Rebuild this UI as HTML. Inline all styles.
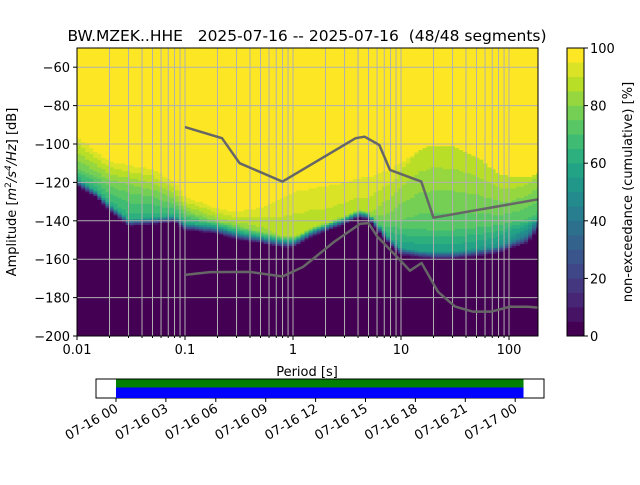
<!DOCTYPE html>
<html><head><meta charset="utf-8">
<style>
body{margin:0;background:#fff;}
svg text{font-family:"DejaVu Sans","Liberation Sans",sans-serif;fill:#000;}
</style></head>
<body>
<svg id="chart" width="640" height="480" viewBox="0 0 640 480" xmlns="http://www.w3.org/2000/svg">
<rect width="640" height="480" fill="#fff"/>
<text x="307" y="41" font-size="15.5" text-anchor="middle" xml:space="preserve">BW.MZEK..HHE   2025-07-16 -- 2025-07-16  (48/48 segments)</text>
<g id="heat"></g>
<g id="grid"></g>
<g id="models"></g>
<rect x="77" y="48" width="461" height="288" fill="none" stroke="#000" stroke-width="1"/>
<g id="axes"></g>
<text x="307" y="376" font-size="13" text-anchor="middle">Period [s]</text>
<text transform="translate(16,192) rotate(-90)" font-size="13" text-anchor="middle">Amplitude [<tspan font-style="italic">m</tspan><tspan dy="-5" font-size="9">2</tspan><tspan dy="5" font-style="italic">/s</tspan><tspan dy="-5" font-size="9" font-style="italic">4</tspan><tspan dy="5" font-style="italic">/Hz</tspan>] [dB]</text>
<g id="cbar"></g>
<text transform="translate(632,192) rotate(-90)" font-size="13" text-anchor="middle">non-exceedance (cumulative) [%]</text>
<g id="timebar"></g>
</svg>
<script>
// ---- data ----
const periods = [0.01,0.015,0.02,0.03,0.05,0.08,0.1,0.2,0.3,0.5,0.8,1,1.5,2,3,4,5,6,8,10,15,20,30,50,80,100,150,186];
const lowEdge = [-122,-128,-135,-143,-142,-141,-145,-147,-150,-152,-154,-154,-148.5,-145.7,-142,-138.5,-139.5,-144.7,-153.5,-158,-159.5,-160,-160,-158.7,-157,-155,-152,-145];
const jumpLevel = [62,62,62,62,62,62,60,58,58,60,62,66,72,78,84,84,84,72,60,55,55,55,55,54,52,48,40,32];
const midDb = [-112,-116,-120,-122,-125,-130,-135,-140,-142,-145,-148,-148,-145,-142,-138,-135,-135,-135,-138,-141,-143,-143,-143,-142,-141,-140,-139,-138];
const plateau = [76,77,78,78,78,78,79,81,82,83,85,85,86,87,87,87,87,84,78,74,72,72,72,72,72,72,70,68];
const topEdge = [-96,-104,-109,-111,-113,-120,-127.5,-133.5,-135.3,-133,-128,-125,-123,-122,-120,-118,-117,-116,-113,-110,-103,-100.5,-101,-106.5,-115,-117,-117,-115];
const nhnmP = [0.1,0.22,0.32,0.8,3.8,4.6,6.3,7.9,15.4,20,186];
const nhnmDb = [-91.2,-97,-110,-119.6,-97,-96.2,-100.5,-113.5,-119.6,-138.4,-128.8];
const nlnmP = [0.1,0.17,0.4,0.8,1.24,2.4,4.2,5.0,6.0,10,12.1,15.5,22,31.7,46,69,101,150,186];
const nlnmDb = [-168.2,-166.7,-166.6,-169,-164,-151,-141.5,-141.2,-148,-161,-166,-162,-177,-184.7,-187.3,-187.3,-184.8,-184.8,-185.2];
const yTicks = [-60,-80,-100,-120,-140,-160,-180,-200];
const xTicks = [0.01,0.1,1,10,100];
const xTickLabels = ["0.01","0.1","1","10","100"];
const cTicks = [0,20,40,60,80,100];
const timeLabels = ["07-16 00","07-16 03","07-16 06","07-16 09","07-16 12","07-16 15","07-16 18","07-16 21","07-17 00"];
const coverageStartH = 0, coverageEndH = 24.5;

// ---- axes ----
const X0=77,X1=538,Y0=48,Y1=336;
const LMIN=-2, DEC=108;
function xs(p){return X0+(Math.log10(p)-LMIN)*DEC;}
const DBMIN=-200,DBMAX=-50;
function ys(d){return Y1-(d-DBMIN)/(DBMAX-DBMIN)*(Y1-Y0);}
const NS="http://www.w3.org/2000/svg";
function mk(tag,attrs,parent){const e=document.createElementNS(NS,tag);for(const k in attrs)e.setAttribute(k,attrs[k]);parent.appendChild(e);return e;}
const vir=["#440154","#482475","#414487","#355f8d","#2a788e","#21918c","#22a884","#44bf70","#7ad151","#bddf26","#fde725"];
function hex(h){return [1,3,5].map(i=>parseInt(h.substr(i,2),16));}
function viridis(t){t=Math.max(0,Math.min(1,t));const f=t*10,i=Math.min(9,Math.floor(f)),r=f-i;const a=hex(vir[i]),b=hex(vir[i+1]);return "rgb("+a.map((v,k)=>Math.round(v+(b[k]-v)*r)).join(",")+")";}
function levelColor(l){return viridis(l/19);}
function interp(xa,ya,x){const lx=Math.log10(x);if(x<=xa[0])return ya[0];for(let i=1;i<xa.length;i++){if(x<=xa[i]){const a=Math.log10(xa[i-1]),b=Math.log10(xa[i]);return ya[i-1]+(ya[i]-ya[i-1])*(lx-a)/(b-a);}}return ya[ya.length-1];}
function pct(p,d){
  const lo=interp(periods,lowEdge,p),J=interp(periods,jumpLevel,p),md=Math.max(lo+5,interp(periods,midDb,p)),P=interp(periods,plateau,p),tp=Math.max(md+2,interp(periods,topEdge,p));
  if(d<lo)return 0;
  if(d<lo+4)return J*(d-lo)/4;
  if(d>=tp)return 100;
  if(d<md)return J+(P-J)*(d-lo-4)/(md-lo-4);
  const P2=Math.min(94.9,P+18);
  return P+(P2-P)*(d-md)/(tp-md);
}
// heatmap
const heat=document.getElementById('heat');
const step=0.125*Math.log10(2);
for(let lp=LMIN;lp<Math.log10(186)+step;lp+=step){
  const p=Math.pow(10,lp+step/2);
  const xa=X0+(lp-LMIN)*DEC, xb=Math.min(X1,xa+step*DEC+0.6);
  if(xa>=X1)break;
  let runStart=DBMIN,runLev=null;
  for(let d=DBMIN;d<=DBMAX;d+=1){
    const lev=(d>=DBMAX)?-1:Math.min(19,Math.floor(pct(p,d+0.5)/5));
    if(lev!==runLev){
      if(runLev!==null&&runLev>=0){
        const r=mk('rect',{x:xa.toFixed(2),y:(ys(d)-0.3).toFixed(2),width:(xb-xa).toFixed(2),height:(ys(runStart)-ys(d)+0.6).toFixed(2),fill:levelColor(runLev)},heat);
        
        
      }
      runStart=d;runLev=lev;
    }
  }
}
// grid
const grid=document.getElementById('grid');
for(let e=-2;e<=2;e++)for(let m=1;m<=9;m++){const p=m*Math.pow(10,e);const x=xs(p);if(x<X0+0.5||x>X1-0.5)continue;
  const l=mk('line',{x1:x,x2:x,y1:Y0,y2:Y1,stroke:'#b0b0b0','stroke-width':1},grid);
  
  }
yTicks.forEach(t=>{const y=ys(t);if(y>=Y1-0.5)return;const l=mk('line',{x1:X0,x2:X1,y1:y,y2:y,stroke:'#b0b0b0','stroke-width':1},grid);
  
  });
// models
const models=document.getElementById('models');
function poly(P,D,name){const pts=P.map((p,i)=>xs(p).toFixed(1)+","+ys(D[i]).toFixed(1)).join(" ");
  const e=mk('polyline',{points:pts,fill:'none',stroke:'#666666','stroke-width':2.5,'stroke-linejoin':'round'},models);
  
  }
poly(nhnmP,nhnmDb,'nhnm-line');poly(nlnmP,nlnmDb,'nlnm-line');
// axes ticks
const axes=document.getElementById('axes');
yTicks.forEach(t=>{const y=ys(t);mk('line',{x1:X0-4,x2:X0,y1:y,y2:y,stroke:'#000'},axes);
  const tx=mk('text',{x:X0-7,y:y+5,'font-size':13,'text-anchor':'end'},axes);tx.textContent="\u2212"+Math.abs(t);
  
  });
xTicks.forEach((t,i)=>{const x=xs(t);mk('line',{x1:x,x2:x,y1:Y1,y2:Y1+4,stroke:'#000'},axes);
  const tx=mk('text',{x:x,y:Y1+18,'font-size':13,'text-anchor':'middle'},axes);tx.textContent=xTickLabels[i];
  
  });
for(let e=-2;e<=2;e++)for(let m=2;m<=9;m++){const x=xs(m*Math.pow(10,e));if(x>X1)continue;mk('line',{x1:x,x2:x,y1:Y1,y2:Y1+2,stroke:'#000'},axes);}
// colorbar
const cb=document.getElementById('cbar');const CX=567,CW=17;
for(let i=0;i<20;i++){const yb=Y1-i*(Y1-Y0)/20,yt=Y1-(i+1)*(Y1-Y0)/20;
  const r=mk('rect',{x:CX,y:yt-0.2,width:CW,height:yb-yt+0.4,fill:levelColor(i)},cb);
  
  }
mk('rect',{x:CX,y:Y0,width:CW,height:Y1-Y0,fill:'none',stroke:'#000'},cb);
cTicks.forEach(t=>{const y=Y1-t/100*(Y1-Y0);mk('line',{x1:CX+CW,x2:CX+CW+4,y1:y,y2:y,stroke:'#000'},cb);
  const tx=mk('text',{x:CX+CW+6,y:y+5,'font-size':13},cb);tx.textContent=t;
  
  });
// time bar
const tb=document.getElementById('timebar');
const TX0=116,TPH=49.9/3;function tx_(h){return TX0+h*TPH;}
mk('rect',{x:96,y:379,width:448,height:19,fill:'#fff',stroke:'#000'},tb);
const g=mk('rect',{x:tx_(coverageStartH),y:379.5,width:tx_(coverageEndH)-tx_(coverageStartH),height:8,fill:'#008000'},tb);


const b=mk('rect',{x:tx_(coverageStartH),y:387.5,width:tx_(coverageEndH)-tx_(coverageStartH),height:10.5,fill:'#0000ff'},tb);


timeLabels.forEach((s,i)=>{const x=tx_(i*3);mk('line',{x1:x,x2:x,y1:398,y2:402,stroke:'#000'},tb);
  const t=mk('text',{x:x+3,y:411,'font-size':13,'text-anchor':'end',transform:`rotate(-30 ${x+3} 411)`},tb);t.textContent=s;
  
  });
</script>
</body></html>
